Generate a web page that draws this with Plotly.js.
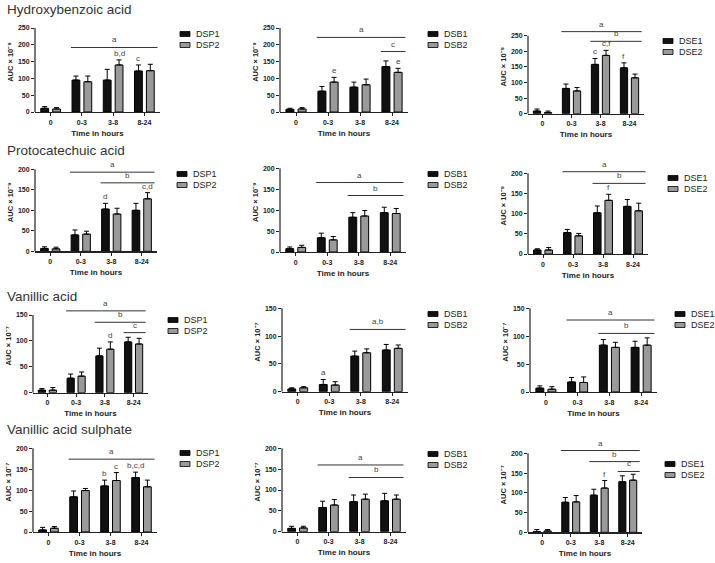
<!DOCTYPE html>
<html><head><meta charset="utf-8">
<script src="https://cdn.plot.ly/plotly-3.0.1.min.js"></script>
<style>html,body{margin:0;padding:0;background:#fff}#chart{width:715px;height:563px}</style>
</head><body><div id="chart"></div>
<script>
// ---------------- DATA ----------------
const categories = ['0', '0-3', '3-8', '8-24'];
const compounds = ['Hydroxybenzoic acid', 'Protocatechuic acid', 'Vanillic acid', 'Vanillic acid sulphate'];
const formulations = [['DSP1', 'DSP2'], ['DSB1', 'DSB2'], ['DSE1', 'DSE2']];
const yTitles = ['AUC × 10⁻⁹', 'AUC × 10⁻⁹', 'AUC × 10⁻⁷', 'AUC × 10⁻⁷'];
const topTick = [250, 200, 150, 200];

// Hydroxybenzoic acid (AUC x 10^-9), mean and upper SEM
const hba_DSP1 = [11, 95, 95, 122];    const hba_DSP1_sem = [5, 12, 32, 18];
const hba_DSP2 = [9, 90, 140, 123];    const hba_DSP2_sem = [4, 17, 15, 19];
const hba_DSB1 = [8, 62, 74, 135];     const hba_DSB1_sem = [3, 14, 15, 17];
const hba_DSB2 = [9, 89, 81, 118];     const hba_DSB2_sem = [4, 14, 17, 12];
const hba_DSE1 = [8.5, 81, 158, 147];  const hba_DSE1_sem = [6.5, 14, 19, 16];
const hba_DSE2 = [4, 73, 187, 115];    const hba_DSE2_sem = [4.5, 11, 16, 12];
// Protocatechuic acid (AUC x 10^-9)
const pca_DSP1 = [7, 40, 103, 100];    const pca_DSP1_sem = [4, 12, 14, 17];
const pca_DSP2 = [6, 42, 91, 128];     const pca_DSP2_sem = [4, 7, 14, 15];
const pca_DSB1 = [8, 34, 83, 94];      const pca_DSB1_sem = [4, 11, 11, 13];
const pca_DSB2 = [11, 29, 86, 92];     const pca_DSB2_sem = [5, 8, 13, 12];
const pca_DSE1 = [10, 53, 102, 118];   const pca_DSE1_sem = [3, 8, 17, 17];
const pca_DSE2 = [10, 45, 133, 107];   const pca_DSE2_sem = [6, 6, 15, 19];
// Vanillic acid (AUC x 10^-7)
const va_DSP1 = [5, 28, 71, 98];       const va_DSP1_sem = [3, 8, 15, 9];
const va_DSP2 = [5, 32, 84, 94];       const va_DSP2_sem = [5, 8, 14, 11];
const va_DSB1 = [5, 13, 64, 75];       const va_DSB1_sem = [2, 9, 9, 10];
const va_DSB2 = [7, 12, 70, 78];       const va_DSB2_sem = [2, 6, 7, 6];
const va_DSE1 = [7, 18, 84, 80];       const va_DSE1_sem = [4, 8, 10, 11];
const va_DSE2 = [5, 17, 80, 84];       const va_DSE2_sem = [4.5, 10, 9, 13];
// Vanillic acid sulphate (AUC x 10^-7)
const vas_DSP1 = [5, 84, 110, 130];    const vas_DSP1_sem = [6, 14, 14, 13];
const vas_DSP2 = [9, 99, 123, 108];    const vas_DSP2_sem = [4, 5, 19, 16];
const vas_DSB1 = [8, 58, 72, 74];      const vas_DSB1_sem = [5, 15, 16, 18];
const vas_DSB2 = [9, 64, 78, 78];      const vas_DSB2_sem = [4, 13, 12, 10];
const vas_DSE1 = [2, 76, 94, 128];     const vas_DSE1_sem = [5, 12, 15, 15];
const vas_DSE2 = [3.5, 77, 112, 132];  const vas_DSE2_sem = [3.5, 16, 19, 15];

// significance letters above bars
const hba_DSP1_sig = ['', '', '', 'c'];      const hba_DSP2_sig = ['', '', 'b,d', ''];
const hba_DSB1_sig = ['', '', '', ''];       const hba_DSB2_sig = ['', 'e', '', 'e'];
const hba_DSE1_sig = ['', '', 'c', 'f'];     const hba_DSE2_sig = ['', '', 'c,f', ''];
const pca_DSP1_sig = ['', '', 'd', ''];      const pca_DSP2_sig = ['', '', '', 'c,d'];
const pca_DSB1_sig = ['', '', '', ''];       const pca_DSB2_sig = ['', '', '', ''];
const pca_DSE1_sig = ['', '', '', ''];       const pca_DSE2_sig = ['', '', 'f', ''];
const va_DSP1_sig = ['', '', '', ''];        const va_DSP2_sig = ['', '', 'd', ''];
const va_DSB1_sig = ['', 'a', '', ''];       const va_DSB2_sig = ['', '', '', ''];
const va_DSE1_sig = ['', '', '', ''];        const va_DSE2_sig = ['', '', '', ''];
const vas_DSP1_sig = ['', '', 'b', 'b,c,d']; const vas_DSP2_sig = ['', '', 'c', ''];
const vas_DSB1_sig = ['', '', '', ''];       const vas_DSB2_sig = ['', '', '', ''];
const vas_DSE1_sig = ['', '', '', ''];       const vas_DSE2_sig = ['', '', 'f', ''];

// significance brackets: [first category, last category, level, letter]
const hba_DSP_br = [[1, 3, 192, 'a']];
const hba_DSB_br = [[1, 3, 222, 'a'], [3, 3, 180, 'c']];
const hba_DSE_br = [[1, 3, 263, 'a'], [2, 3, 232, 'b']];
const pca_DSP_br = [[1, 3, 193, 'a'], [2, 3, 167, 'b']];
const pca_DSB_br = [[1, 3, 166, 'a'], [2, 3, 135, 'b']];
const pca_DSE_br = [[1, 3, 204, 'a'], [2, 3, 175, 'b']];
const va_DSP_br = [[1, 3, 158, 'a'], [2, 3, 136, 'b'], [3, 3, 116, 'c']];
const va_DSB_br = [[2, 3, 112, 'a,b']];
const va_DSE_br = [[1, 3, 129, 'a'], [2, 3, 105, 'b']];
const vas_DSP_br = [[1, 3, 174, 'a']];
const vas_DSB_br = [[1, 3, 160, 'a'], [2, 3, 130, 'b']];
const vas_DSE_br = [[1, 3, 207, 'a'], [2, 3, 179, 'b'], [3, 3, 154, 'c']];

const panels = [
  [[hba_DSP1, hba_DSP1_sem, hba_DSP1_sig], [hba_DSP2, hba_DSP2_sem, hba_DSP2_sig], hba_DSP_br],
  [[hba_DSB1, hba_DSB1_sem, hba_DSB1_sig], [hba_DSB2, hba_DSB2_sem, hba_DSB2_sig], hba_DSB_br],
  [[hba_DSE1, hba_DSE1_sem, hba_DSE1_sig], [hba_DSE2, hba_DSE2_sem, hba_DSE2_sig], hba_DSE_br],
  [[pca_DSP1, pca_DSP1_sem, pca_DSP1_sig], [pca_DSP2, pca_DSP2_sem, pca_DSP2_sig], pca_DSP_br],
  [[pca_DSB1, pca_DSB1_sem, pca_DSB1_sig], [pca_DSB2, pca_DSB2_sem, pca_DSB2_sig], pca_DSB_br],
  [[pca_DSE1, pca_DSE1_sem, pca_DSE1_sig], [pca_DSE2, pca_DSE2_sem, pca_DSE2_sig], pca_DSE_br],
  [[va_DSP1, va_DSP1_sem, va_DSP1_sig], [va_DSP2, va_DSP2_sem, va_DSP2_sig], va_DSP_br],
  [[va_DSB1, va_DSB1_sem, va_DSB1_sig], [va_DSB2, va_DSB2_sem, va_DSB2_sig], va_DSB_br],
  [[va_DSE1, va_DSE1_sem, va_DSE1_sig], [va_DSE2, va_DSE2_sem, va_DSE2_sig], va_DSE_br],
  [[vas_DSP1, vas_DSP1_sem, vas_DSP1_sig], [vas_DSP2, vas_DSP2_sem, vas_DSP2_sig], vas_DSP_br],
  [[vas_DSB1, vas_DSB1_sem, vas_DSB1_sig], [vas_DSB2, vas_DSB2_sem, vas_DSB2_sig], vas_DSB_br],
  [[vas_DSE1, vas_DSE1_sem, vas_DSE1_sig], [vas_DSE2, vas_DSE2_sem, vas_DSE2_sig], vas_DSE_br]
];

// ---------------- LAYOUT (pixels) ----------------
const W = 715, H = 563;
// [axis left, axis right, y of zero, y of top tick]
const geom = [
  [35, 160, 112, 28], [280, 408, 112, 28], [528, 644, 113.7, 35.7],
  [35, 157, 251.3, 169.3], [280, 406, 252, 168.3], [528, 648, 254, 173.3],
  [33, 148, 392.7, 315], [282, 408, 391.7, 308.3], [530, 657, 392, 308.3],
  [33, 157, 532, 448.3], [282, 406, 531.7, 448.3], [528, 642, 532.3, 453.3]
];
const legendPos = [[180, 34], [428, 34], [663, 41], [177, 174], [428, 174], [668, 178],
                   [168, 320], [428, 314], [675, 314], [180, 453], [428, 454], [665, 464]];
const titleY = [10, 150, 296, 429];

const FONT = 'Liberation Sans, Arial, sans-serif';
const colors = ['#111111', '#9a9a9a'];
const BW = 0.25, BC = 0.19;

const data = [];
const shapes = [];
const annotations = [];
const layout = {
  width: W, height: H, margin: {l: 0, r: 0, t: 0, b: 0},
  paper_bgcolor: '#fff', plot_bgcolor: 'rgba(0,0,0,0)',
  showlegend: false, barmode: 'overlay',
  font: {family: FONT, color: '#222', size: 8}
};

panels.forEach((pan, p) => {
  const row = Math.floor(p / 3), col = p % 3;
  const [axL, axR, y0, yT] = geom[p];
  const T = topTick[row];
  const topPx = yT - 16;
  const R = T * (y0 - topPx) / (y0 - yT);
  const xs = p === 0 ? '' : String(p + 1);
  const xid = 'x' + xs, yid = 'y' + xs;

  layout['xaxis' + xs] = {
    domain: [axL / W, axR / W], range: [-0.5, 3.5], anchor: yid,
    tickvals: [0, 1, 2, 3], ticktext: categories,
    showline: true, linecolor: '#222', linewidth: 1.2,
    ticks: 'outside', ticklen: 3, tickwidth: 1, tickcolor: '#222',
    showgrid: false, zeroline: false, fixedrange: true,
    tickfont: {family: FONT, size: 7, color: '#222', weight: 'bold'},
    title: {text: 'Time in hours', standoff: 5, font: {family: FONT, size: 8, color: '#222', weight: 'bold'}}
  };
  const tv = [];
  for (let v = 0; v <= T; v += 50) tv.push(v);
  layout['yaxis' + xs] = {
    domain: [1 - y0 / H, 1 - topPx / H], range: [0, R], anchor: xid,
    tickvals: tv, showline: false, showgrid: false, zeroline: false,
    ticks: 'outside', ticklen: 3, tickwidth: 1, tickcolor: '#222', fixedrange: true,
    tickfont: {family: FONT, size: 7, color: '#222', weight: 'bold'},
    title: {text: yTitles[row], standoff: 3,
            font: {family: FONT, size: 7.5, color: '#222', weight: 'bold'}}
  };
  // y-axis line only up to the top tick
  shapes.push({type: 'line', xref: xid + ' domain', yref: yid, x0: 0, x1: 0, y0: 0, y1: T,
               line: {color: '#222', width: 1.2}, layer: 'above'});

  [0, 1].forEach(s => {
    const [vals, sem, sig] = pan[s];
    data.push({
      type: 'bar', x: [0, 1, 2, 3], y: vals, name: formulations[col][s],
      xaxis: xid, yaxis: yid, width: BW, offset: (s === 0 ? -BC : BC) - BW / 2,
      marker: {color: colors[s], line: {color: '#000', width: 1}},
      error_y: {type: 'data', symmetric: false, array: sem, arrayminus: [0, 0, 0, 0],
                color: '#000', thickness: 1, width: 2.5},
      hoverinfo: 'skip'
    });
    sig.forEach((t, i) => {
      if (!t) return;
      annotations.push({xref: xid, yref: yid, x: i + (s === 0 ? -BC : BC), y: vals[i] + sem[i],
        text: t, showarrow: false, yanchor: 'bottom', yshift: 0,
        font: {family: FONT, size: 8, color: '#444'}});
    });
    // legend entry
    const [lx, ly] = legendPos[p];
    const yy = ly + s * 11;
    shapes.push({type: 'rect', xref: 'paper', yref: 'paper',
      x0: lx / W, x1: (lx + 10) / W, y0: 1 - (yy + 2.5) / H, y1: 1 - (yy - 2.5) / H,
      fillcolor: colors[s], line: {color: '#000', width: 0.8}});
    annotations.push({xref: 'paper', yref: 'paper', x: (lx + 14) / W, y: 1 - yy / H,
      xanchor: 'left', yanchor: 'middle', text: formulations[col][s], showarrow: false,
      font: {family: FONT, size: 9, color: '#222'}});
  });

  pan[2].forEach(([a, b, lvl, t]) => {
    const x0 = a - 0.35, x1 = b + 0.42;
    shapes.push({type: 'line', xref: xid, yref: yid, x0: x0, x1: x1, y0: lvl, y1: lvl,
                 line: {color: '#333', width: 1}});
    annotations.push({xref: xid, yref: yid, x: (x0 + x1) / 2, y: lvl, text: t,
      showarrow: false, yanchor: 'bottom', yshift: 1,
      font: {family: FONT, size: 8, color: '#444'}});
  });
});

compounds.forEach((c, r) => {
  annotations.push({xref: 'paper', yref: 'paper', x: 5 / W, y: 1 - titleY[r] / H,
    xanchor: 'left', yanchor: 'middle', text: c, showarrow: false,
    font: {family: FONT, size: 13.5, color: '#333'}});
});

layout.shapes = shapes;
layout.annotations = annotations;
Plotly.newPlot('chart', data, layout, {displayModeBar: false, staticPlot: true});
</script>
</body></html>
